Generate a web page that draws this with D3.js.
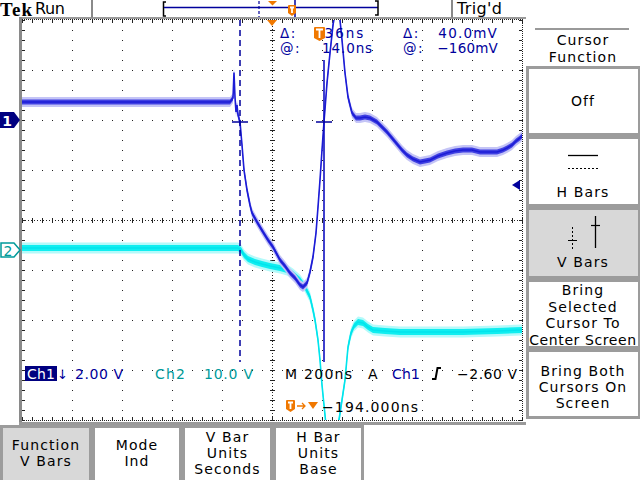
<!DOCTYPE html>
<html><head><meta charset="utf-8">
<script src="https://cdn.jsdelivr.net/npm/d3@7"></script>
<style>body{margin:0;background:#fff;} svg{display:block;font-family:"DejaVu Sans",sans-serif;}</style>
</head><body><svg id="c" width="640" height="480"></svg>
<script>
// ---- data (time in ns relative to screen centre, volts) ----
const ch1Time = [-1000,-848,-688,-488,-288,-168,-156,-152,-148,-144,-140,-136,-128,-120,-112,-100,-88,-80,-60,-36,-16,4,32,52,72,92,112,124,140,152,164,176,184,192,200,208,220,232,244,260,272,280,292,304,320,336,352,372,392,420,440,460,480,500,520,540,564,592,632,664,700,732,764,800,832,872,900,924,940,960,976,992,1000];
const ch1Volt = [0.72,0.72,0.72,0.72,0.72,0.72,0.88,1.9,0.9,0.32,0.6,0.2,-0.08,-1.0,-2.0,-2.8,-3.4,-3.72,-4.08,-4.48,-4.8,-5.08,-5.6,-5.84,-6.12,-6.32,-6.6,-6.68,-6.52,-6.08,-5.48,-4.52,-3.48,-2.4,-1.2,-0.08,1.48,2.68,3.8,4.8,4.0,3.2,1.88,0.92,0.28,0.08,0.08,0.12,0.08,-0.08,-0.28,-0.48,-0.72,-0.96,-1.2,-1.4,-1.56,-1.68,-1.6,-1.44,-1.32,-1.24,-1.2,-1.2,-1.28,-1.28,-1.28,-1.2,-1.12,-1.0,-0.84,-0.72,-0.64];
const ch2Time = [-1000,-688,-288,-136,-124,-112,-96,-68,-40,-8,32,60,84,112,132,152,164,172,184,192,200,208,216,236,260,268,280,292,304,316,328,344,364,384,404,452,512,632,764,900,1000];
const ch2Volt = [0.4,0.4,0.4,0.4,0,-1,-1.8,-2.4,-2.8,-3.2,-3.6,-4,-4.8,-6,-7.4,-9.4,-12,-14,-18,-22,-27,-31,-35,-50,-36,-34,-30,-26,-19.4,-16.6,-15.2,-14.4,-14.6,-15.4,-16,-16.2,-16.4,-16.4,-16.4,-16.2,-16];
const cursorTimes = [-128, 208];
const cursorCrossVolt = -0.08;
const ch1TrigLevel = -2.6;
const rightMenu = [["Off"],["H Bars"],["V Bars"],["Bring","Selected","Cursor To","Center Screen"],["Bring Both","Cursors On","Screen"]];
const bottomMenu = [["Function","V Bars"],["Mode","Ind"],["V Bar","Units","Seconds"],["H Bar","Units","Base"]];

const svg = d3.select('#c');
const x = d3.scaleLinear().domain([-1000,1000]).range([22,522]);
const y1 = d3.scaleLinear().domain([-12,4]).range([420,20]);
const y2 = d3.scaleLinear().domain([-34,46]).range([420,20]);
const gy = d3.scaleLinear().domain([-4,4]).range([420,20]);
const NAVY = '#00009c', ORANGE = '#f07800', TEAL = '#009a9a';

// ---- frame ----
svg.append('rect').attr('x',19).attr('y',17).attr('width',507).attr('height',2).attr('fill','#9a9a9a');
svg.append('rect').attr('x',19).attr('y',17).attr('width',3).attr('height',408).attr('fill','#8a8a8a');
svg.append('rect').attr('x',19).attr('y',422).attr('width',507).attr('height',3).attr('fill','#9a9a9a');
svg.append('rect').attr('x',91).attr('y',0).attr('width',2).attr('height',18).attr('fill','#8a8a8a');
svg.append('rect').attr('x',451).attr('y',0).attr('width',2).attr('height',18).attr('fill','#8a8a8a');

// ---- graticule ----
const grid = svg.append('g').attr('fill','#222').attr('shape-rendering','crispEdges');
const minorT = d3.range(-1000,1000.1,40);
const minorD = d3.range(-4,4.01,0.2);
x.ticks(10).filter(t=>t!==-1000&&t!==1000&&t!==0).forEach(t=>{
  minorD.forEach(d=>grid.append('rect').attr('x',Math.round(x(t))).attr('y',Math.round(gy(d))).attr('width',1).attr('height',1));
});
[-3,-2,-1,1,2,3].forEach(d=>{
  minorT.forEach(t=>grid.append('rect').attr('x',Math.round(x(t))).attr('y',Math.round(gy(d))).attr('width',1).attr('height',1));
});
const lines = svg.append('g').attr('stroke','#222').attr('stroke-width',1).attr('shape-rendering','crispEdges');
lines.append('line').attr('x1',x(0)+0.5).attr('x2',x(0)+0.5).attr('y1',20).attr('y2',420).attr('stroke-dasharray','1,2');
lines.append('line').attr('y1',gy(0)+0.5).attr('y2',gy(0)+0.5).attr('x1',22).attr('x2',522).attr('stroke-dasharray','1,2');
minorD.forEach(d=>lines.append('line').attr('x1',x(0)-2).attr('x2',x(0)+3).attr('y1',Math.round(gy(d))+0.5).attr('y2',Math.round(gy(d))+0.5));
minorT.forEach(t=>lines.append('line').attr('y1',gy(0)-2).attr('y2',gy(0)+3).attr('x1',Math.round(x(t))+0.5).attr('x2',Math.round(x(t))+0.5));
lines.append('line').attr('x1',22).attr('x2',523).attr('y1',19.5).attr('y2',19.5).attr('stroke-dasharray','1,1');
lines.append('line').attr('x1',22).attr('x2',523).attr('y1',420.5).attr('y2',420.5).attr('stroke-dasharray','1,1');
lines.append('line').attr('x1',522.5).attr('x2',522.5).attr('y1',19).attr('y2',421).attr('stroke-dasharray','1,1');
minorT.forEach(t=>{
  const xx=Math.round(x(t))+0.5;
  lines.append('line').attr('x1',xx).attr('x2',xx).attr('y1',20).attr('y2',23);
  lines.append('line').attr('x1',xx).attr('x2',xx).attr('y1',417).attr('y2',420);
});
minorD.forEach(d=>{
  const yy=Math.round(gy(d))+0.5;
  lines.append('line').attr('x1',22).attr('x2',25).attr('y1',yy).attr('y2',yy);
  lines.append('line').attr('x1',519).attr('x2',522).attr('y1',yy).attr('y2',yy);
});

// ---- traces ----
svg.append('clipPath').attr('id','clip').append('rect').attr('x',22).attr('y',20).attr('width',500).attr('height',400);
const tr = svg.append('g').attr('clip-path','url(#clip)');
function drawTrace(times, volts, ys, halo, mid, core, hw, mw){
  const pts = times.map((t,i)=>({t, v: volts[i]}));
  const band = w => d3.area().x(d=>x(d.t)).y0(d=>ys(d.v)-w).y1(d=>ys(d.v)+w);
  tr.append('path').datum(pts).attr('d',band(hw)).attr('fill',halo);
  tr.append('path').datum(pts).attr('d',band(mw)).attr('fill',mid);
  tr.append('path').datum(pts).attr('d',d3.line().x(d=>x(d.t)).y(d=>ys(d.v))).attr('fill','none').attr('stroke',core).attr('stroke-width',1.6);
}
drawTrace(ch2Time, ch2Volt, y2, '#b4fafa', '#10eef0', '#00e4ec', 5.5, 3);
drawTrace(ch1Time, ch1Volt, y1, '#c4c4f6', '#4040e2', '#1c1cd6', 5, 2.5);

// ---- cursors ----
svg.append('line').attr('x1',x(cursorTimes[0])).attr('x2',x(cursorTimes[0])).attr('y1',20).attr('y2',362)
  .attr('stroke',NAVY).attr('stroke-width',1.5).attr('stroke-dasharray','6,4');
svg.append('line').attr('x1',x(cursorTimes[1])).attr('x2',x(cursorTimes[1])).attr('y1',60).attr('y2',362)
  .attr('stroke','#1010c0').attr('stroke-width',1.6);
cursorTimes.forEach(t=>{
  svg.append('line').attr('x1',x(t)-8).attr('x2',x(t)+8).attr('y1',y1(cursorCrossVolt)).attr('y2',y1(cursorCrossVolt))
    .attr('stroke',NAVY).attr('stroke-width',1.5);
});
const ty = y1(ch1TrigLevel);
svg.append('path').attr('d',`M512,${ty} L520,${ty-5} L520,${ty+5} Z`).attr('fill',NAVY);
svg.append('path').attr('d',`M${x(0)-5},20 L${x(0)+5},20 L${x(0)},26 Z`).attr('fill',ORANGE);

// channel markers
svg.append('path').attr('d',`M0,${y1(0)-8} L14,${y1(0)-8} L20,${y1(0)} L14,${y1(0)+8} L0,${y1(0)+8} Z`).attr('fill','#000080');
svg.append('text').attr('x',7).attr('y',y1(0)+5.5).attr('text-anchor','middle').attr('font-size',14).attr('font-weight','bold').attr('fill','#fff').text('1');
svg.append('path').attr('d',`M1,${y2(0)-7} L14,${y2(0)-7} L20,${y2(0)} L14,${y2(0)+7} L1,${y2(0)+7} Z`).attr('fill','#fff').attr('stroke',TEAL).attr('stroke-width',1.5);
svg.append('text').attr('x',8).attr('y',y2(0)+5.5).attr('text-anchor','middle').attr('font-size',14).attr('fill',TEAL).text('2');

// ---- text helper ----
function txt(s, xx, yy, opt={}){
  const t = svg.append('text').attr('x',xx).attr('y',yy).attr('font-size',opt.size||14).attr('fill',opt.color||'#000').text(s);
  if(opt.anchor) t.attr('text-anchor',opt.anchor);
  if(opt.len) t.attr('textLength',opt.len).attr('lengthAdjust','spacing');
  if(opt.ls) t.attr('letter-spacing',opt.ls);
  if(opt.weight) t.attr('font-weight',opt.weight);
  if(opt.family) t.attr('font-family',opt.family);
  return t;
}
// ---- header ----
txt('Tek',0,16,{size:19,weight:'bold',family:'"Liberation Serif",serif',len:32});
txt('Run',35,14,{size:16,len:30});
txt("Trig'd",457,14,{size:16,len:45});
svg.append('path').attr('d','M166,2 L163.5,2 L163.5,16 L166,16').attr('fill','none').attr('stroke','#000').attr('stroke-width',1.5);
svg.append('line').attr('x1',164).attr('x2',378).attr('y1',7.5).attr('y2',7.5).attr('stroke',NAVY).attr('stroke-width',1.5);
svg.append('path').attr('d','M375,1 L378,1 L378,15 L375,15').attr('fill','none').attr('stroke','#000').attr('stroke-width',1.5);
svg.append('line').attr('x1',259).attr('x2',259).attr('y1',1).attr('y2',17).attr('stroke',NAVY).attr('stroke-width',1.2).attr('stroke-dasharray','3,2');
svg.append('line').attr('x1',295).attr('x2',295).attr('y1',0).attr('y2',17).attr('stroke',NAVY).attr('stroke-width',1.5);
svg.append('path').attr('d','M268,1 L277,1 L272.5,5.5 Z').attr('fill',ORANGE);
function tMark(x0,y0,w,h){
  svg.append('path').attr('d',`M${x0+1},${y0} H${x0+w-1} Q${x0+w},${y0} ${x0+w},${y0+1} V${y0+h-3} L${x0+w/2},${y0+h} L${x0},${y0+h-3} V${y0+1} Q${x0},${y0} ${x0+1},${y0} Z`).attr('fill',ORANGE);
  svg.append('path').attr('d',`M${x0+2},${y0+2.5} H${x0+w-2} M${x0+w/2},${y0+2.5} V${y0+h-3}`).attr('stroke','#fff').attr('stroke-width',1.8).attr('fill','none');
}
tMark(288,5,8,11);

// ---- cursor readout ----
const RS = 13.5;
txt('\u0394:',280,37.5,{size:RS,color:NAVY,ls:1.5});
txt('336ns',314,37.5,{size:RS,color:NAVY,ls:2});
tMark(314,27,11,14);
txt('\u0394:',403,37.5,{size:RS,color:NAVY,ls:1.5});
txt('40.0mV',498,37.5,{size:RS,color:NAVY,anchor:'end',ls:1.2});
txt('@:',280,53,{size:RS,color:NAVY,ls:1.5});
txt('14.0ns',322,53,{size:RS,color:NAVY,ls:0.9});
txt('@:',403,53,{size:RS,color:NAVY,ls:1.5});
txt('\u2212160mV',498,53,{size:RS,color:NAVY,anchor:'end',ls:0.2});

// ---- bottom readout ----
svg.append('rect').attr('x',25).attr('y',366).attr('width',32).attr('height',15).attr('fill','#000080');
txt('Ch1',27,379,{color:'#fff',len:28});
txt('\u2193',57,379,{color:NAVY,size:13});
txt('2.00 V',75,379,{color:NAVY,len:48});
txt('Ch2',155,379,{color:TEAL,len:30});
txt('10.0 V',204,379,{color:TEAL,len:49});
txt('M 200ns',285,379,{len:67});
txt('A',368,379);
txt('Ch1',392,379,{color:NAVY,len:28});
svg.append('path').attr('d','M432,379 L435.5,379 L437.5,368 L441,368').attr('fill','none').attr('stroke','#000').attr('stroke-width',2);
txt('\u22122.60 V',457,379,{len:60});
tMark(286,400,9,12);
svg.append('path').attr('d','M297,406 H305 M302,403 L305,406 L302,409').attr('stroke',ORANGE).attr('stroke-width',1.3).attr('fill','none');
svg.append('path').attr('d','M308,402 L318,402 L313,409 Z').attr('fill',ORANGE);
txt('\u2212194.000ns',322,412,{len:96});

// ---- right menu ----
const MS = 14, MLS = 1.1;
svg.append('rect').attr('x',535).attr('y',28).attr('width',94).attr('height',2).attr('fill','#999');
txt('Cursor',583,45,{size:MS,anchor:'middle',ls:MLS});
txt('Function',583,62,{size:MS,anchor:'middle',ls:MLS});
const rBoxes = [[66,136],[136,207],[207,279],[279,349],[349,419]];
rBoxes.forEach((b,i)=>{
  svg.append('rect').attr('x',527.5).attr('y',b[0]+1.5).attr('width',112).attr('height',b[1]-b[0]-3)
    .attr('fill', i===2?'#d8d8d8':'#fff').attr('stroke','#9c9c9c').attr('stroke-width',3);
});
txt(rightMenu[0][0],583,106,{size:MS,anchor:'middle',ls:MLS});
svg.append('line').attr('x1',568).attr('x2',598).attr('y1',155.5).attr('y2',155.5).attr('stroke','#000').attr('stroke-width',1.3);
svg.append('line').attr('x1',568).attr('x2',598).attr('y1',168.5).attr('y2',168.5).attr('stroke','#000').attr('stroke-width',1).attr('stroke-dasharray','2,2');
txt(rightMenu[1][0],583,197,{size:MS,anchor:'middle',ls:MLS});
svg.append('line').attr('x1',572.5).attr('x2',572.5).attr('y1',227).attr('y2',250).attr('stroke','#000').attr('stroke-width',1).attr('stroke-dasharray','2,2');
svg.append('line').attr('x1',568).attr('x2',577).attr('y1',240.5).attr('y2',240.5).attr('stroke','#000').attr('stroke-width',1);
svg.append('line').attr('x1',595.5).attr('x2',595.5).attr('y1',216).attr('y2',248).attr('stroke','#000').attr('stroke-width',1.3);
svg.append('line').attr('x1',591).attr('x2',600).attr('y1',225.5).attr('y2',225.5).attr('stroke','#000').attr('stroke-width',1.2);
txt(rightMenu[2][0],583,267,{size:MS,anchor:'middle',ls:MLS});
[295,312,328,345].forEach((yy,i)=>txt(rightMenu[3][i],583,yy,{size:MS,anchor:'middle',ls: i===3?0.6:MLS}));
[376,392,408].forEach((yy,i)=>txt(rightMenu[4][i],583,yy,{size:MS,anchor:'middle',ls:MLS}));

// ---- bottom menu ----
const bBoxes = [[0,92],[92,182],[182,273],[273,364]];
bBoxes.forEach((b,i)=>{
  svg.append('rect').attr('x',b[0]+1.5).attr('y',426.5).attr('width',b[1]-b[0]-3).attr('height',60)
    .attr('fill', i===0?'#d8d8d8':'#fff').attr('stroke','#9c9c9c').attr('stroke-width',3);
  const lns = bottomMenu[i];
  const base = lns.length===2 ? [450,466] : [442,458,474];
  lns.forEach((s,j)=>txt(s,(b[0]+b[1])/2,base[j],{size:MS,anchor:'middle',ls:MLS}));
});
</script></body></html>
